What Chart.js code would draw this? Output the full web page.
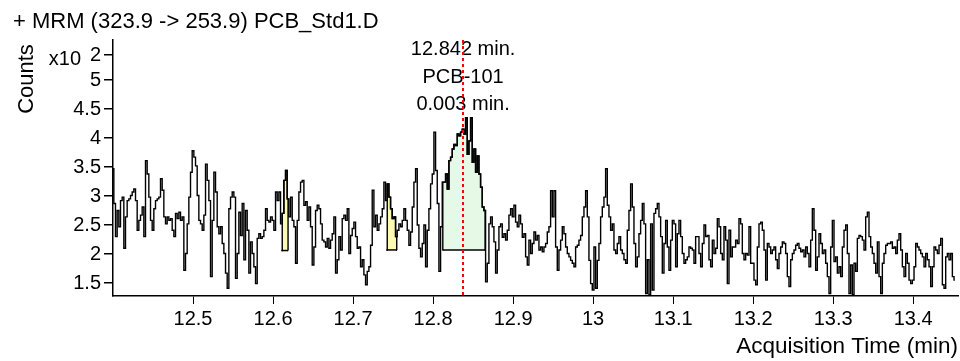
<!DOCTYPE html>
<html>
<head>
<meta charset="utf-8">
<script src="https://cdn.jsdelivr.net/npm/chart.js@4/dist/chart.umd.min.js"></script>
<style>
html,body{margin:0;padding:0;background:#fff;}
#c{display:block;}
</style>
</head>
<body>
<canvas id="c" width="960" height="361"></canvas>
<script>
// ---------- texts ----------
const chartTitle = '+ MRM (323.9 -> 253.9) PCB_Std1.D';
const xAxisTitle = 'Acquisition Time (min)';
const yAxisTitle = 'Counts';
const yMultiplier = 'x10';
const yExponent = '2';

// ---------- axes ----------
const xRange = [12.4, 13.456];
const yRange = [1.276, 5.69];
const xTickValues = [12.5, 12.6, 12.7, 12.8, 12.9, 13.0, 13.1, 13.2, 13.3, 13.4];
const xTickLabels = ['12.5', '12.6', '12.7', '12.8', '12.9', '13', '13.1', '13.2', '13.3', '13.4'];
const yTickValues = [1.5, 2, 2.5, 3, 3.5, 4, 4.5, 5];
const yTickLabels = ['1.5', '2', '2.5', '3', '3.5', '4', '4.5', '5'];
const yExponentTick = 5.43;

// ---------- trace (counts x10^2), sampled every sampleStep minutes from startTime ----------
const startTime = 12.4;
const sampleStep = 1 / 480;
const counts = [
3.47,2.87,2.30,2.75,2.47,2.92,2.98,2.10,2.64,2.92,
2.95,3.01,3.07,3.12,2.92,2.41,2.58,2.67,2.81,2.30,
3.61,3.38,2.98,2.58,2.41,2.78,2.92,2.95,2.98,3.30,
3.10,2.64,2.52,2.64,2.58,2.61,2.41,2.30,2.70,2.61,
2.72,2.58,2.64,1.72,2.01,2.52,2.98,3.41,3.78,3.67,
3.52,3.01,2.58,2.52,2.41,2.67,3.55,3.27,2.92,1.61,
2.58,3.41,3.07,2.47,2.35,2.47,2.18,2.01,1.67,1.41,
2.78,2.98,3.07,2.98,1.58,2.01,2.72,2.32,2.87,1.90,
2.75,2.41,1.67,2.21,2.01,1.78,1.49,2.27,2.35,2.27,
2.30,2.41,2.78,2.58,2.55,2.64,2.58,2.41,3.07,2.92,
3.07,2.52,2.70,3.27,3.44,2.95,2.64,2.98,2.58,2.47,
1.84,2.58,3.07,3.24,3.27,2.84,2.90,2.58,2.81,2.47,
1.81,2.12,2.75,2.84,2.78,2.52,2.24,2.21,2.12,2.27,
2.10,2.24,2.35,2.64,1.67,1.90,2.30,2.07,2.61,2.67,
2.58,2.78,2.01,2.32,2.44,2.55,2.30,2.10,2.12,1.78,
1.90,1.64,1.47,1.70,1.78,2.15,3.10,2.47,2.67,2.41,
2.52,2.64,2.78,3.24,2.92,3.21,2.98,2.78,2.61,2.64,
2.30,2.41,2.52,2.47,2.58,2.78,2.58,2.41,2.15,2.38,
2.81,3.24,3.47,2.50,2.10,1.95,2.18,2.50,1.78,2.41,
2.78,3.21,3.38,4.10,3.44,2.87,1.70,2.47,3.24,3.24,
3.38,3.12,
3.61,3.67,3.81,3.89,3.87,4.07,4.04,4.10,4.15,4.07,
4.35,3.72,3.95,4.35,3.58,3.81,3.41,3.69,3.38,3.15,
2.81,2.75,1.52,1.84,2.52,2.64,2.47,2.21,1.67,2.07,
2.47,2.52,2.29,2.35,2.24,2.41,2.67,2.78,2.64,2.84,
2.55,2.47,2.67,2.52,2.29,2.35,1.95,1.81,2.24,2.01,
2.18,2.38,2.24,2.32,2.07,2.12,2.04,2.12,2.18,2.38,
2.47,3.09,2.64,3.09,2.12,1.72,2.07,2.24,2.47,2.35,
2.12,2.01,1.95,1.89,1.84,1.78,2.12,2.15,2.24,2.32,
2.64,2.81,3.09,2.64,1.89,1.49,1.38,2.12,1.41,1.89,
2.18,2.64,2.81,2.98,3.47,2.84,2.64,2.41,2.52,2.07,
2.01,2.18,
2.30,2.07,2.01,1.90,1.84,2.41,2.75,3.21,2.81,2.18,
1.78,1.95,2.35,2.58,2.87,2.52,1.32,1.90,1.30,2.52,
1.38,2.70,2.78,2.87,2.64,2.30,1.67,2.18,2.58,2.12,
1.72,2.24,2.58,2.52,1.78,2.35,2.58,2.30,2.01,1.84,
1.90,1.95,2.12,2.10,2.07,1.84,2.30,2.30,2.01,1.78,
2.18,2.50,2.30,2.32,1.90,1.78,2.24,2.01,2.10,2.61,
2.47,2.01,1.90,2.47,2.24,1.49,2.41,1.95,2.12,2.12,
2.24,2.18,2.61,2.52,2.01,1.90,2.01,1.98,2.47,1.84,
1.84,1.55,1.47,2.12,2.52,2.55,2.41,2.07,1.55,2.18,
2.12,2.01,2.07,2.12,1.90,1.75,2.01,2.12,2.21,2.18,
2.01,1.61,
1.44,1.90,2.01,2.07,2.15,2.18,2.10,2.04,2.07,1.95,
2.12,2.01,1.78,2.24,2.78,2.41,1.72,1.95,2.35,2.18,
2.01,2.07,1.84,1.61,1.32,2.12,2.58,1.87,1.95,1.67,
1.78,1.61,2.12,2.41,2.50,2.01,1.32,1.81,1.30,1.84,
1.70,2.27,2.32,2.30,2.24,2.07,2.64,2.72,2.30,2.12,
2.01,1.84,1.67,2.21,1.61,1.32,1.84,2.01,2.15,2.18,
2.18,2.21,2.10,2.12,2.01,2.24,2.35,2.07,1.78,1.61,
2.01,1.84,1.55,1.49,1.55,1.78,2.18,2.12,2.07,2.01,
1.95,1.78,2.01,1.90,1.78,1.44,1.78,2.12,2.07,2.01,
2.15,2.27,1.47,1.41,1.95,2.01,1.90,2.01,1.61,1.55
];

// ---------- integrated peaks ----------
const peakStart = [12.6105, 12.7417, 12.8118];
const peakEnd   = [12.6188, 12.7550, 12.8655];
const peakBase  = [2.06, 2.07, 2.07];

// ---------- marked peak ----------
const markerTime = 12.8375;
const markerLabels = ['12.842 min.', 'PCB-101', '0.003 min.'];

// ---------- styles ----------
const FONT = "'Liberation Sans', Arial, sans-serif";
const peakColors = ['rgb(253,250,178)', 'rgb(253,250,178)', 'rgb(230,248,230)'];

Chart.defaults.font.family = FONT;
Chart.defaults.font.size = 20;
Chart.defaults.color = '#000';

const trace = counts.map((v, i) => ({x: startTime + i * sampleStep, y: v}));

const datasets = [{
  data: trace,
  borderColor: '#000',
  borderWidth: 1.4,
  pointRadius: 0,
  fill: false,
  stepped: 'middle',
  order: 0
}];

peakStart.forEach((s, k) => {
  const e = peakEnd[k], b = peakBase[k];
  const inner = trace.filter(p => p.x > s && p.x < e);
  datasets.push({
    data: [{x: s, y: b}, ...inner, {x: e, y: b}],
    borderColor: '#000',
    borderWidth: 1.4,
    pointRadius: 0,
    backgroundColor: peakColors[k],
    fill: {value: b},
    stepped: 'middle',
    order: 3
  });
  datasets.push({
    data: [{x: s, y: b}, {x: e, y: b}],
    borderColor: '#000',
    borderWidth: 1.5,
    pointRadius: 0,
    fill: false,
    order: 1
  });
});

const overlay = {
  id: 'overlay',
  afterDraw(chart) {
    const ctx = chart.ctx;
    const xs = chart.scales.x;
    const area = chart.chartArea;
    ctx.save();
    ctx.fillStyle = '#000';
    // title
    ctx.font = '22px ' + FONT;
    ctx.textAlign = 'left';
    ctx.textBaseline = 'alphabetic';
    ctx.fillText(chartTitle, 13, 28);
    // y title rotated
    ctx.save();
    ctx.translate(33, 79);
    ctx.rotate(-Math.PI / 2);
    ctx.textAlign = 'center';
    ctx.font = '22px ' + FONT;
    ctx.fillText(yAxisTitle, 0, 0);
    ctx.restore();
    // multiplier
    ctx.font = '20px ' + FONT;
    ctx.textAlign = 'right';
    ctx.fillText(yMultiplier, 81, 65);
    // x title
    ctx.font = '22.5px ' + FONT;
    ctx.textAlign = 'right';
    ctx.fillText(xAxisTitle, 958, 353);
    // marker labels
    ctx.font = '20px ' + FONT;
    const mx = xs.getPixelForValue(markerTime);
    ctx.textAlign = 'center';
    const baselines = [55, 83, 110];
    markerLabels.forEach((t, i) => ctx.fillText(t, mx, baselines[i]));
    // red dotted marker line
    ctx.strokeStyle = '#ff0000';
    ctx.lineWidth = 2;
    ctx.setLineDash([3, 3]);
    ctx.beginPath();
    ctx.moveTo(Math.round(mx), area.top);
    ctx.lineTo(Math.round(mx), area.bottom);
    ctx.stroke();
    ctx.restore();
  }
};

new Chart(document.getElementById('c'), {
  type: 'line',
  data: {datasets},
  options: {
    responsive: false,
    devicePixelRatio: 1,
    animation: false,
    layout: {padding: {top: 40, right: 2, left: 0, bottom: 0}},
    plugins: {legend: {display: false}, tooltip: {enabled: false}, title: {display: false}},
    scales: {
      x: {
        type: 'linear',
        min: xRange[0],
        max: xRange[1],
        afterBuildTicks: s => { s.ticks = xTickValues.map(v => ({value: v})); },
        afterFit: s => { s.height = 65; },
        ticks: {
          autoSkip: false,
          maxRotation: 0,
          padding: 3,
          callback: v => xTickLabels[xTickValues.indexOf(v)]
        },
        grid: {drawOnChartArea: false, drawTicks: true, tickLength: 8, tickColor: '#000', color: '#000'},
        border: {color: '#000', width: 1.5}
      },
      y: {
        min: yRange[0],
        max: yRange[1],
        afterBuildTicks: s => { s.ticks = [...yTickValues, yExponentTick].map(v => ({value: v})); },
        afterFit: s => { s.width = 113; },
        ticks: {
          autoSkip: false,
          padding: 3,
          callback: v => { const i = yTickValues.indexOf(v); return i >= 0 ? yTickLabels[i] : yExponent; }
        },
        grid: {drawOnChartArea: false, drawTicks: true, tickLength: 9, tickColor: '#000', color: '#000', lineWidth: 1.5},
        border: {color: '#000', width: 1.5}
      }
    }
  },
  plugins: [overlay]
});
</script>
</body>
</html>
